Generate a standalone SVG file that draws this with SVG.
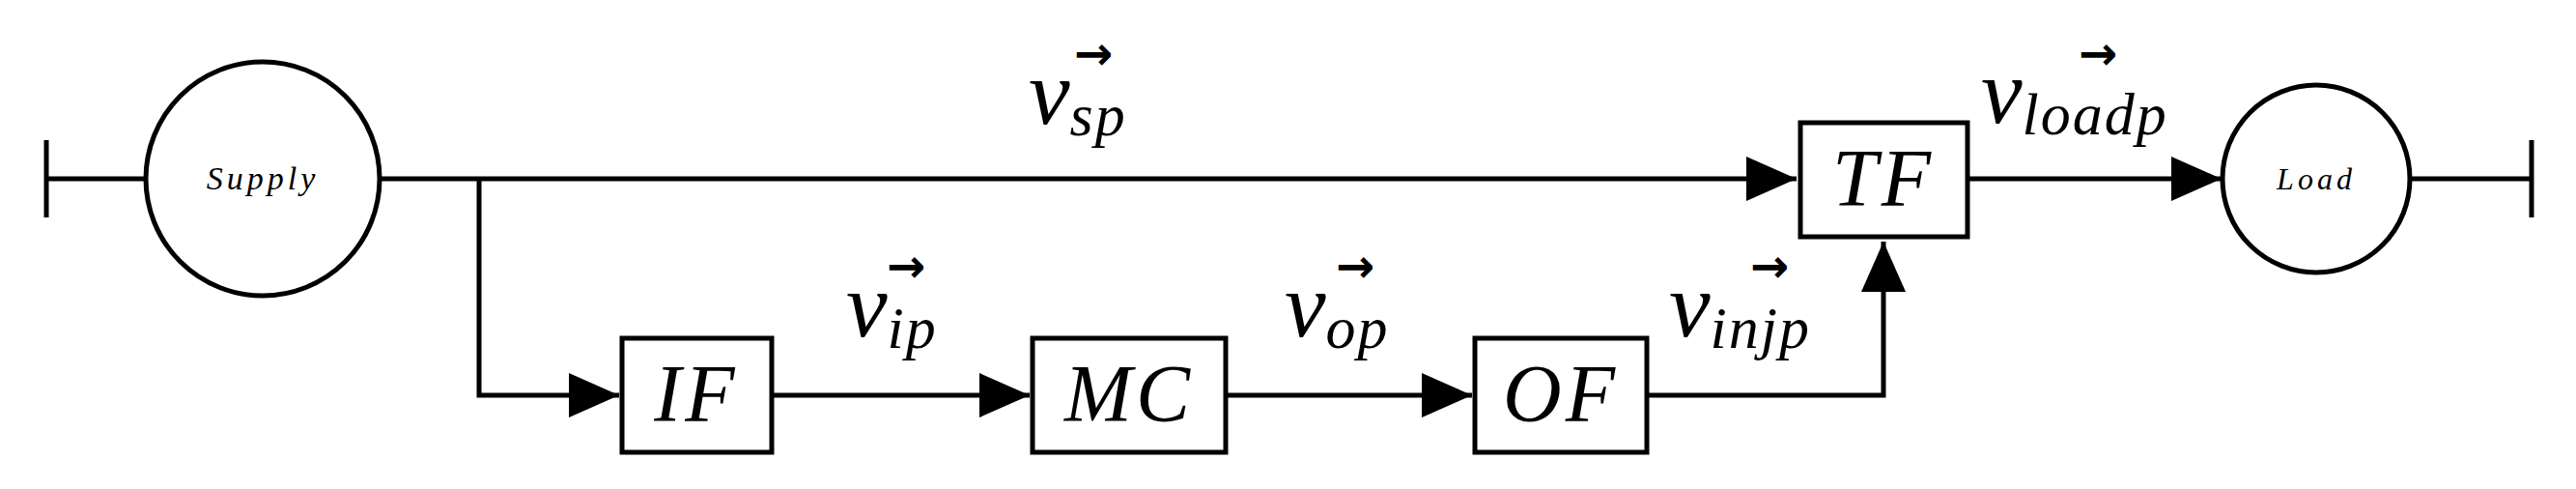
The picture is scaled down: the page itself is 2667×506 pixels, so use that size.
<svg xmlns="http://www.w3.org/2000/svg" width="2667" height="506" viewBox="0 0 2667 506">
<style>
.ln{stroke:#000;stroke-width:5;fill:none}
.bx{stroke:#000;stroke-width:5;fill:#fff}
.m{font-family:"Liberation Serif",serif;font-style:italic}
.v{font-size:96px}
.s{font-size:62px;letter-spacing:2px}
.a{font-family:"DejaVu Sans",sans-serif;font-size:48px;font-weight:bold}
</style>
<defs>
<marker id="ah" markerUnits="userSpaceOnUse" markerWidth="52" markerHeight="46" refX="52" refY="23" orient="auto"><path d="M0,0 L52,23 L0,46 Z" fill="#000"/></marker>
</defs>
<g id="connectors">
<line class="ln" x1="48" y1="145" x2="48" y2="225" stroke-width="3"/>
<line class="ln" x1="48" y1="185" x2="151" y2="185"/>
<line class="ln" x1="394" y1="185" x2="1860" y2="185" marker-end="url(#ah)"/>
<polyline class="ln" points="496,185 496,409 641,409" marker-end="url(#ah)"/>
<line class="ln" x1="799" y1="409" x2="1066" y2="409" marker-end="url(#ah)"/>
<line class="ln" x1="1269" y1="409" x2="1524" y2="409" marker-end="url(#ah)"/>
<polyline class="ln" points="1705,409 1950,409 1950,250" marker-end="url(#ah)"/>
<line class="ln" x1="2037" y1="185" x2="2300" y2="185" marker-end="url(#ah)"/>
<line class="ln" x1="2494" y1="185" x2="2621" y2="185"/>
<line class="ln" x1="2621" y1="145" x2="2621" y2="225" stroke-width="3"/>
</g>
<g id="supply"><circle class="bx" cx="272" cy="185" r="121"/><text class="m" x="272" y="196" font-size="34" letter-spacing="4" text-anchor="middle">Supply</text></g>
<g id="load"><circle class="bx" cx="2398" cy="185" r="97"/><text class="m" x="2398" y="196" font-size="32" letter-spacing="4" text-anchor="middle">Load</text></g>
<g id="IF"><rect class="bx" x="644" y="350" width="155" height="118"/><text class="m" x="721" y="436" font-size="84" letter-spacing="4" text-anchor="middle">IF</text></g>
<g id="MC"><rect class="bx" x="1069" y="350" width="200" height="118"/><text class="m" x="1169" y="436" font-size="84" letter-spacing="4" text-anchor="middle">MC</text></g>
<g id="OF"><rect class="bx" x="1527" y="350" width="178" height="118"/><text class="m" x="1616" y="436" font-size="84" letter-spacing="4" text-anchor="middle">OF</text></g>
<g id="TF"><rect class="bx" x="1864" y="127" width="173" height="118"/><text class="m" x="1950" y="213" font-size="84" letter-spacing="4" text-anchor="middle">TF</text></g>
<g id="labels">
<text class="m v" x="1065" y="128">v<tspan class="s" dy="12">sp</tspan></text><text class="a" x="1112" y="72">→</text>
<text class="m v" x="876" y="348">v<tspan class="s" dy="12">ip</tspan></text><text class="a" x="918" y="292">→</text>
<text class="m v" x="1330" y="348">v<tspan class="s" dy="12">op</tspan></text><text class="a" x="1383" y="292">→</text>
<text class="m v" x="1728" y="348">v<tspan class="s" dy="12">injp</tspan></text><text class="a" x="1812" y="292">→</text>
<text class="m v" x="2051" y="127">v<tspan class="s" dy="12">loadp</tspan></text><text class="a" x="2152" y="72">→</text>
</g>
</svg>
